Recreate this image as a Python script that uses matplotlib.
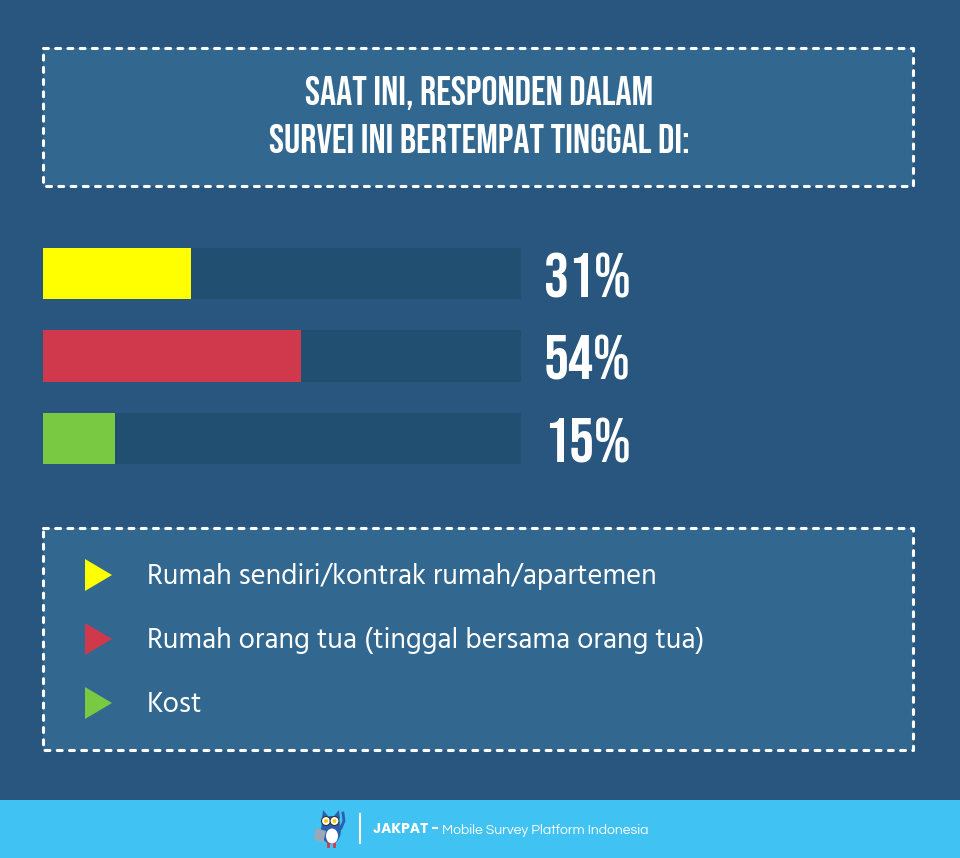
import matplotlib
matplotlib.use('Agg')
import matplotlib.pyplot as plt
from matplotlib.patches import Rectangle, Polygon, Ellipse, Circle

# Data
title_lines = ['SAAT INI, RESPONDEN DALAM', 'SURVEI INI BERTEMPAT TINGGAL DI:']
categories = ['Rumah sendiri/kontrak rumah/apartemen',
              'Rumah orang tua (tinggal bersama orang tua)',
              'Kost']
values = [31, 54, 15]
colors = ['#ffff00', '#d0394c', '#7ac943']
footer_bold = 'JAKPAT - '
footer_text = 'Mobile Survey Platform Indonesia'

BG = '#28567e'
BOX = '#326890'
TRACK = '#214f71'
FOOT = '#40c3f2'
BEBAS = ['Bebas Neue', 'DejaVu Sans']
HIND = ['Hind', 'DejaVu Sans']

W, H = 960, 858
fig = plt.figure(figsize=(W / 100, H / 100), dpi=100, facecolor=BG)
ax = fig.add_axes([0, 0, 1, 1])
ax.set_xlim(0, W)
ax.set_ylim(H, 0)
ax.axis('off')


def dashed_box(x0, y0, x1, y1):
    ax.add_patch(Rectangle((x0, y0), x1 - x0, y1 - y0, facecolor=BOX,
                           edgecolor='none', zorder=1))
    ax.plot([x0, x1, x1, x0, x0], [y0, y0, y1, y1, y0], color='white',
            lw=2.2, linestyle=(0, (1.6, 2.4)), solid_capstyle='round',
            dash_capstyle='round', zorder=2)


# title box
dashed_box(43, 48, 913, 186)
ax.text(479.5, 105, title_lines[0], ha='center', va='baseline', color='white',
        fontsize=29, family=BEBAS, zorder=3)
ax.text(479.5, 153, title_lines[1], ha='center', va='baseline', color='white',
        fontsize=29, family=BEBAS, zorder=3)

# bars in their own axes, x in percent
bar_h = 51 / 82
bx = fig.add_axes([43 / W, 1 - 464 / H, 478 / W, 216 / H])
bx.set_xlim(0, 100)
bx.set_ylim(2 + bar_h / 2, -bar_h / 2)
bx.axis('off')
ypos = list(range(len(values)))
bx.barh(ypos, [100] * len(values), height=bar_h, color=TRACK)
bx.barh(ypos, values, height=bar_h, color=colors)
for y, v in zip(ypos, values):
    bx.text(123.0, y + bar_h / 2 - 0.02, f'{v}%', ha='right', va='baseline',
            color='white', fontsize=45, family=BEBAS, clip_on=False)

# legend box
dashed_box(43, 528, 913, 750)
leg_y = [575, 639, 703]
for y, c, lab in zip(leg_y, colors, categories):
    ax.add_patch(Polygon([(85, y - 16), (112, y), (85, y + 16)],
                         closed=True, facecolor=c, edgecolor='none', zorder=3))
    ax.text(147, y + 9, lab, ha='left', va='baseline', color='white',
            fontsize=20.8, family=HIND, zorder=3)

# footer
ax.add_patch(Rectangle((0, 800), W, 58, facecolor=FOOT, edgecolor='none'))
ax.plot([360, 360], [814, 843], color='white', lw=1.5)
t1 = ax.text(373, 833, footer_bold, ha='left', va='baseline', color='white',
             fontsize=10, fontweight='bold', family=['Poppins', 'DejaVu Sans'])
ax.annotate(footer_text, xy=(1, 0), xycoords=t1, ha='left', va='bottom',
            color='white', fontsize=10, family=['Questrial', 'DejaVu Sans'])

# small owl logo
ax.add_patch(Ellipse((331, 830), 20, 28, facecolor='#2a5fb0', zorder=3))
ax.add_patch(Polygon([(322, 819), (323, 810), (328, 816)], facecolor='#2a5fb0', zorder=3))
ax.add_patch(Polygon([(340, 819), (339, 810), (334, 816)], facecolor='#2a5fb0', zorder=3))
ax.add_patch(Ellipse((332, 836), 12, 15, facecolor='white', zorder=4))
for ex in (326, 334.5):
    ax.add_patch(Circle((ex, 821), 4.5, facecolor='white', edgecolor='#333333',
                        lw=0.8, zorder=5))
    ax.add_patch(Circle((ex, 821), 2, facecolor='#f5d000', zorder=6))
ax.plot([341, 344, 343], [828, 821, 813], color='#2a5fb0', lw=2, zorder=3)
ax.add_patch(Polygon([(316, 828), (326, 831), (323, 843), (314, 839)],
                     facecolor='#9aa8b8', zorder=4))
ax.plot([327.5, 327.5], [842, 846], color='#d0394c', lw=2, zorder=3)
ax.plot([333.5, 333.5], [842, 846], color='#d0394c', lw=2, zorder=3)

fig.savefig('out.png', dpi=100, facecolor=BG)
